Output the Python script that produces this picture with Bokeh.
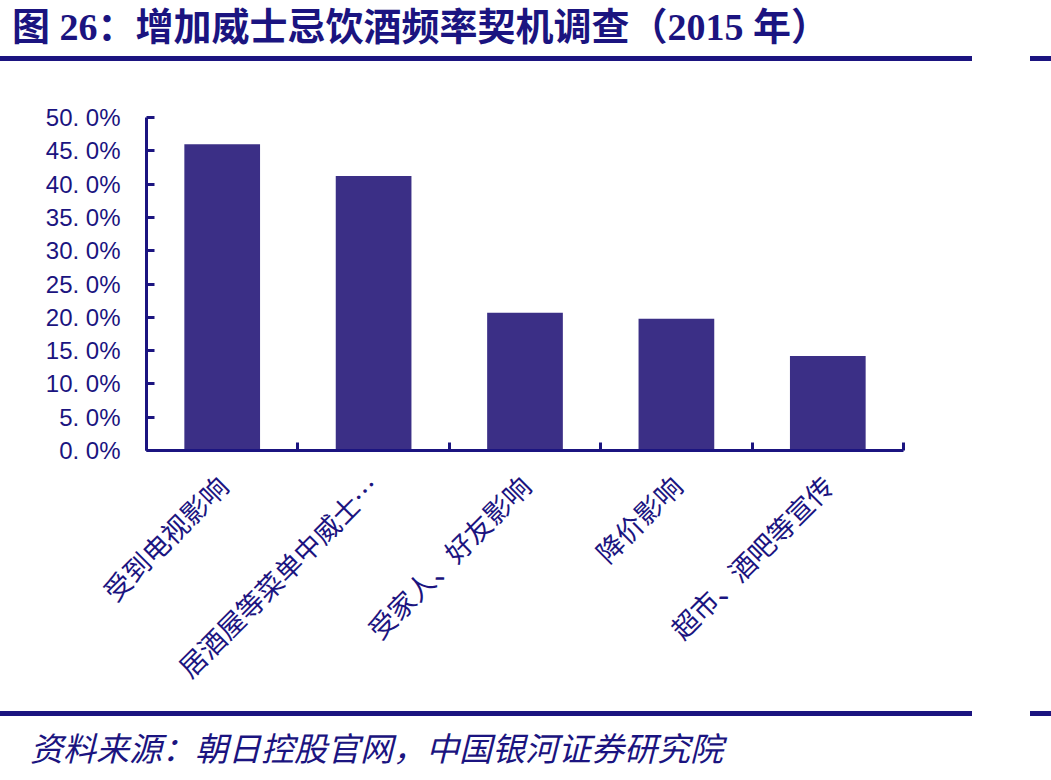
from math import pi
from bokeh.plotting import figure
from bokeh.layouts import column
from bokeh.models import Range1d, FixedTicker, CustomJSTickFormatter, Div
from bokeh.embed import file_html
from bokeh.resources import INLINE

categories = ["受到电视影响", "居酒屋等菜单中威士…", "受家人、好友影响", "降价影响", "超市、酒吧等宣传"]
values = [46.0, 41.2, 20.7, 19.8, 14.2]
y_ticks = [0, 5, 10, 15, 20, 25, 30, 35, 40, 45, 50]
title_text = "图 26：增加威士忌饮酒频率契机调查（2015 年）"
source_text = "资料来源：朝日控股官网，中国银河证券研究院"

NAVY = "#1b1480"
BAR = "#3b2f86"

n = len(categories)
centers = [i + 0.5 for i in range(n)]
bounds = [float(i) for i in range(n + 1)]

TOP_H = 62
BOT_H = 75
FIG_H = 780 - TOP_H - BOT_H

p = figure(width=1051, height=FIG_H, output_backend="svg", toolbar_location=None,
           x_range=Range1d(0, n), y_range=Range1d(0, 50),
           min_border_left=146, min_border_right=148,
           min_border_top=117 - TOP_H, min_border_bottom=(780 - BOT_H) - 450,
           margin=(0, 0, 0, 0))
p.outline_line_color = None
p.xgrid.visible = False
p.ygrid.visible = False

p.vbar(x=centers, top=values, width=0.5, bottom=0, fill_color=BAR, line_color=None)

# y axis
ya = p.yaxis[0]
ya.ticker = FixedTicker(ticks=y_ticks, minor_ticks=[])
ya.formatter = CustomJSTickFormatter(code="return tick.toFixed(1).replace('.', '. ') + '%';")
ya.axis_line_color = NAVY
ya.axis_line_width = 3
ya.major_tick_line_color = NAVY
ya.major_tick_line_width = 3
ya.major_tick_in = 8
ya.major_tick_out = 0
ya.minor_tick_line_color = None
ya.major_label_text_font = "Liberation Sans"
ya.major_label_text_font_size = "24px"
ya.major_label_text_color = NAVY
ya.major_label_standoff = 26

# x axis
xa = p.xaxis[0]
xa.ticker = FixedTicker(ticks=centers, minor_ticks=bounds)
xa.major_label_overrides = {c: cat for c, cat in zip(centers, categories)}
xa.axis_line_color = NAVY
xa.axis_line_width = 3
xa.major_tick_line_color = None
xa.minor_tick_line_color = NAVY
xa.minor_tick_line_width = 3
xa.minor_tick_in = 8
xa.minor_tick_out = 0
xa.major_label_orientation = pi / 4
xa.major_label_text_font = "Noto Sans CJK SC"
xa.major_label_text_font_size = "27px"
xa.major_label_text_color = NAVY
xa.major_label_standoff = 24

title_html = (
    f'<div style="position:relative;width:1051px;height:{TOP_H}px;">'
    f'<div style="position:absolute;left:12px;top:5px;font-family:\'Liberation Serif\',\'Noto Sans CJK SC\';'
    f'font-weight:bold;font-size:38px;line-height:44px;color:{NAVY};white-space:nowrap;">{title_text}</div>'
    f'<div style="position:absolute;left:0px;top:56px;width:972px;height:5px;background:{NAVY};"></div>'
    f'<div style="position:absolute;left:1030px;top:56px;width:21px;height:5px;background:{NAVY};"></div>'
    f'</div>'
)
source_html = (
    f'<div style="position:relative;width:1051px;height:{BOT_H}px;">'
    f'<div style="position:absolute;left:0px;top:{711 - 705}px;width:972px;height:5px;background:{NAVY};"></div>'
    f'<div style="position:absolute;left:1030px;top:{711 - 705}px;width:21px;height:5px;background:{NAVY};"></div>'
    f'<div style="position:absolute;left:30px;top:{727 - 705}px;font-family:\'Noto Sans CJK SC\';'
    f'font-style:italic;font-size:33px;line-height:40px;color:{NAVY};white-space:nowrap;">{source_text}</div>'
    f'</div>'
)

title_div = Div(text=title_html, width=1051, height=TOP_H, margin=(0, 0, 0, 0))
source_div = Div(text=source_html, width=1051, height=BOT_H, margin=(0, 0, 0, 0))

layout = column(title_div, p, source_div, spacing=0, margin=(0, 0, 0, 0))

open("out.html", "w").write(file_html(layout, INLINE))
